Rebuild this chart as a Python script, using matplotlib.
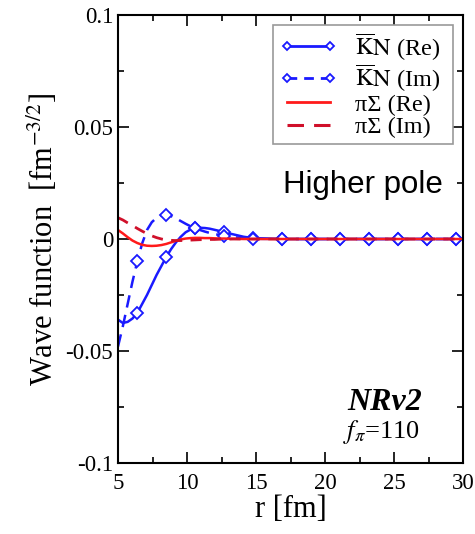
import matplotlib
matplotlib.use("Agg")
import matplotlib.pyplot as plt
from matplotlib.ticker import MultipleLocator
from matplotlib.lines import Line2D

plt.rcParams['font.family'] = ['Liberation Serif', 'DejaVu Serif']
plt.rcParams['mathtext.fontset'] = 'stix'

# radial grid [fm]
r = [5.0, 5.35, 5.7, 6.05, 6.4, 6.75, 7.1, 7.45, 7.8, 8.15, 8.5, 8.85, 9.2, 9.55,
     9.9, 10.25, 10.6, 10.95, 11.3, 11.65, 12.0, 12.35, 12.7, 13.4, 14.1, 14.8,
     16.9, 19.0, 21.1, 23.2, 25.3, 27.4, 29.5, 30.0]

kn_re = [-0.036, -0.0375, -0.037, -0.0355, -0.033, -0.029, -0.025, -0.0205, -0.016,
         -0.012, -0.008, -0.0045, -0.0015, 0.001, 0.003, 0.0042, 0.0048, 0.005,
         0.0049, 0.0046, 0.0041, 0.0036, 0.003, 0.002, 0.001, 0.0004,
         0.0, 0.0, 0.0, 0.0, 0.0, 0.0, 0.0, 0.0]

kn_im = [-0.048, -0.039, -0.029, -0.019, -0.010, -0.002, 0.004, 0.0075, 0.0095,
         0.0105, 0.0108, 0.0102, 0.0092, 0.008, 0.0068, 0.0057, 0.0048, 0.004,
         0.0033, 0.0027, 0.0022, 0.0018, 0.0014, 0.0008, 0.0004, 0.0001,
         0.0, 0.0, 0.0, 0.0, 0.0, 0.0, 0.0, 0.0]

pis_re = [0.004, 0.0025, 0.0008, -0.0007, -0.0018, -0.0026, -0.003, -0.0031, -0.003,
          -0.0027, -0.0022, -0.0015, -0.0008, -0.0002, 0.0002, 0.0004, 0.0005, 0.0005,
          0.0004, 0.0004, 0.0003, 0.0002, 0.0002, 0.0001, 0.0, 0.0,
          0.0, 0.0, 0.0, 0.0, 0.0, 0.0, 0.0, 0.0]

pis_im = [0.0095, 0.0085, 0.0072, 0.006, 0.0047, 0.0035, 0.0024, 0.0014, 0.0006,
          0.0, -0.0004, -0.0006, -0.0007, -0.0007, -0.0006, -0.0005, -0.0004, -0.0003,
          -0.0003, -0.0002, -0.0002, -0.0001, -0.0001, 0.0, 0.0, 0.0,
          0.0, 0.0, 0.0, 0.0, 0.0, 0.0, 0.0, 0.0]

marker_idx = [4, 10, 16, 22, 25, 26, 27, 28, 29, 30, 31, 32]

labels = [r"$\overline{\mathrm{K}}\mathrm{N}$ (Re)  ", r"$\overline{\mathrm{K}}\mathrm{N}$ (Im)  ",
          "πΣ (Re)  ", "πΣ (Im)  "]
yticks = [-0.1, -0.05, 0, 0.05, 0.1]
ytick_labels = ['-0.1', '-0.05', '0', '0.05', '0.1']

fig = plt.figure(figsize=(4.75, 5.34), dpi=100)
ax = fig.add_axes([118/475, 71/534, 345/475, 448/534])

blue = '#1a1aff'
red = '#ff1a1a'
dred = '#d0102a'
mk = dict(marker='D', ms=6, mfc='white', mec=blue, mew=1.3)
mk_leg = dict(marker='D', ms=4.5, mfc='white', mec=blue, mew=1.3)
ax.plot(r, kn_re, '-', color=blue, lw=1.8, markevery=marker_idx, **mk)
ax.plot(r, kn_im, color=blue, lw=1.8, ls=(0, (5, 3)), markevery=marker_idx, **mk)
ax.plot(r, pis_re, '-', color=red, lw=1.8)
ax.plot(r, pis_im, color=dred, lw=2.0, ls=(0, (4, 3)))

ax.set_xlim(5, 30)
ax.set_ylim(-0.1, 0.1)
ax.xaxis.set_major_locator(MultipleLocator(5))
ax.xaxis.set_minor_locator(MultipleLocator(2.5))
ax.yaxis.set_minor_locator(MultipleLocator(0.025))
ax.set_yticks(yticks)
ax.set_yticklabels(ytick_labels)
ax.tick_params(which='both', direction='in', top=True, right=True, labelsize=16.5, width=1.2)
ax.tick_params(which='major', length=8)
ax.tick_params(which='minor', length=4)
ax.tick_params(axis='x', pad=7)
for s in ax.spines.values():
    s.set_linewidth(1.5)

ax.set_xlabel('r [fm]', fontsize=22, labelpad=1)
ax.set_ylabel(r'Wave function  [fm$^{-3/2}$]', fontsize=22, labelpad=4)

handles = [
    Line2D([0, 1], [0, 0], color=blue, lw=2.0, markevery=[0, 1], **mk_leg),
    Line2D([0, 1], [0, 0], color=blue, lw=2.0, ls=(0, (3.5, 2.5)), markevery=[0, 1], **mk_leg),
    Line2D([0, 1], [0, 0], color=red, lw=2.0),
    Line2D([0, 1], [0, 0], color=dred, lw=2.2, ls=(0, (5.4, 3.3))),
]
leg = ax.legend(handles, labels, loc='upper right', bbox_to_anchor=(0.971, 0.978),
                borderaxespad=0, numpoints=2,
                fontsize=17.5, handlelength=2.4, labelspacing=0.02, handletextpad=0.7,
                borderpad=0.25, fancybox=False, edgecolor='#999999', framealpha=1)
leg.get_frame().set_linewidth(1.2)

ax.text(0.478, 0.62, 'Higher pole', transform=ax.transAxes, fontsize=22.5,
        family='Liberation Sans', va='center', ha='left')
ax.text(0.664, 0.136, 'NRv2', transform=ax.transAxes, fontsize=23,
        fontweight='bold', fontstyle='italic', va='center', ha='left')
ax.text(0.652, 0.069, r'$f_\pi$=110', transform=ax.transAxes, fontsize=19,
        va='center', ha='left')

fig.savefig('out.png', dpi=100)
